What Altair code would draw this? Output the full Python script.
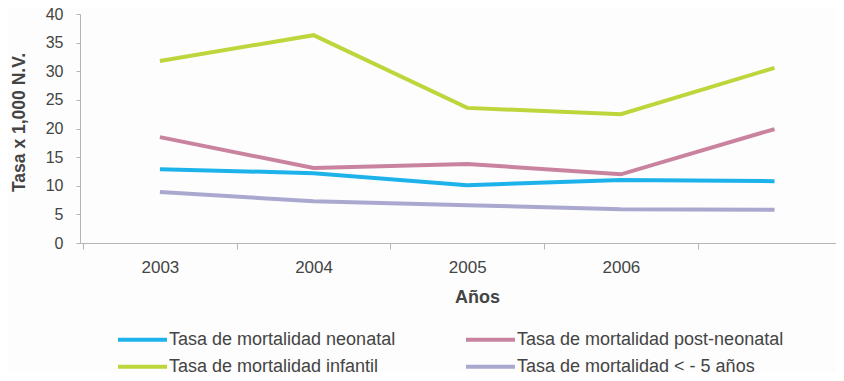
import altair as alt
import pandas as pd

years = [2003, 2004, 2005, 2006, 2007]
row1_names = ["Tasa de mortalidad neonatal", "Tasa de mortalidad post-neonatal"]
row2_names = ["Tasa de mortalidad infantil", "Tasa de mortalidad < - 5 años"]
neonatal = [12.9, 12.2, 10.1, 11.0, 10.8]
post_neonatal = [18.5, 13.1, 13.8, 12.0, 19.9]
infantil = [31.8, 36.3, 23.6, 22.5, 30.6]
menor5 = [8.9, 7.3, 6.6, 5.9, 5.8]
row1_colors = ["#1db3ea", "#c9839f"]
row2_colors = ["#bfd53c", "#aba8d0"]


def long_table(names, series):
    rows = []
    for name, vals in zip(names, series):
        for y, v in zip(years, vals):
            rows.append({"Año": y, "Tasa": v, "Serie": name})
    return pd.DataFrame(rows)


df1 = long_table(row1_names, [neonatal, post_neonatal])
df2 = long_table(row2_names, [infantil, menor5])

FONT = "Liberation Sans"

x_vals = [2002.5, 2003, 2003.5, 2004, 2004.5, 2005, 2005.5, 2006, 2006.5, 2007]

x_enc = alt.X(
    "Año:Q",
    scale=alt.Scale(domain=[2002.48, 2007.40], nice=False, zero=False),
    axis=alt.Axis(
        title="Años",
        values=x_vals,
        labelExpr="datum.value % 1 == 0 && datum.value < 2007 ? format(datum.value, 'd') : ''",
        tickOpacity={"condition": {"test": "datum.value % 1 == 0", "value": 0}, "value": 1},
        grid=False,
        tickSize=6,
        labelPadding=10,
        labelFontSize=17,
        labelColor="#444444",
        labelFont=FONT,
        labelFlush=False,
        labelOverlap=False,
        domainColor="#b5b5b5",
        tickColor="#b5b5b5",
        titleFont=FONT,
        titleFontSize=18,
        titleFontWeight="bold",
        titleColor="#444444",
        titleX=397,
        titleY=54,
        titleBaseline="middle",
    ),
)

y_enc = alt.Y(
    "Tasa:Q",
    scale=alt.Scale(domain=[0, 40], nice=False),
    axis=alt.Axis(
        title="Tasa x 1,000 N.V.",
        values=[0, 5, 10, 15, 20, 25, 30, 35, 40],
        grid=False,
        tickSize=4,
        labelPadding=13,
        labelFontSize=16,
        labelColor="#444444",
        labelFont=FONT,
        domainColor="#b5b5b5",
        tickColor="#b5b5b5",
        titleFont=FONT,
        titleFontSize=17.5,
        titleFontWeight="bold",
        titleColor="#444444",
        titleX=-61,
        titleY=108,
        titleBaseline="middle",
    ),
)


def legend(ly, pad):
    return alt.Legend(
        title=None,
        orient="none",
        direction="horizontal",
        legendX=36,
        legendY=ly,
        columns=2,
        columnPadding=pad,
        symbolType="stroke",
        symbolSize=2400,
        symbolStrokeWidth=4,
        labelOffset=0,
        labelFontSize=18,
        labelFont=FONT,
        labelColor="#444444",
        labelLimit=400,
    )


layer1 = alt.Chart(df1).mark_line(strokeWidth=4).encode(
    x=x_enc,
    y=y_enc,
    color=alt.Color(
        "Serie:N",
        scale=alt.Scale(domain=row1_names, range=row1_colors),
        sort=row1_names,
        legend=legend(299, 62),
    ),
)

layer2 = alt.Chart(df2).mark_line(strokeWidth=4).encode(
    x=x_enc,
    y=y_enc,
    color=alt.Color(
        "Serie2:N",
        scale=alt.Scale(domain=row2_names, range=row2_colors),
        sort=row2_names,
        legend=legend(326, 79),
    ),
).transform_calculate(Serie2="datum.Serie")

chart = alt.layer(layer2, layer1).resolve_scale(color="independent").resolve_legend(
    color="independent"
).properties(
    width=756,
    height=229,
    autosize=alt.AutoSizeParams(type="none"),
    padding={"left": 72, "top": 6, "right": 0, "bottom": 130},
    background="#fdfdfd",
).configure_view(stroke=None)

chart.save("out.html", embed_options={"renderer": "svg", "actions": False})
